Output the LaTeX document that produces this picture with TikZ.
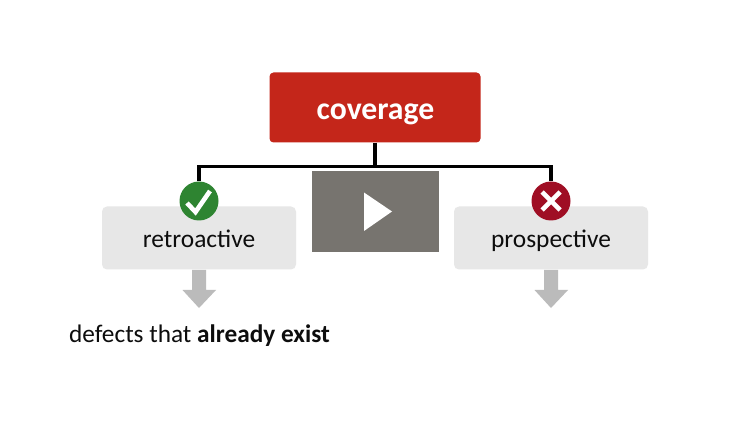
\documentclass[tikz,border=0pt]{standalone}
\usepackage{fontspec}
\setmainfont{Carlito}
\definecolor{redbox}{HTML}{C4261A}
\definecolor{greybox}{HTML}{E7E7E7}
\definecolor{arrowgrey}{HTML}{BBBBBB}
\definecolor{playgrey}{HTML}{77746F}
\definecolor{okgreen}{HTML}{2E8431}
\definecolor{nored}{HTML}{9F0E24}
\tikzset{
  topbox/.style={draw=none,fill=redbox,rounded corners=4pt,minimum width=211pt,minimum height=70pt,inner sep=0pt},
  toplabel/.style={anchor=base,inner sep=0pt,text=white,font=\fontsize{31.7}{34}\selectfont\bfseries},
  subbox/.style={draw=none,fill=greybox,rounded corners=5pt,minimum width=194pt,minimum height=63pt,inner sep=0pt},
  sublabel/.style={anchor=base,inner sep=0pt,font=\fontsize{25.4}{28}\selectfont,text=black!95},
  badge/.style={circle,minimum size=39pt,inner sep=0pt},
  conn/.style={draw=black,line width=3.2pt},
  downarrow/.style={fill=arrowgrey,draw=none},
}
\begin{document}
\begin{tikzpicture}[x=1pt,y=-1pt]
\useasboundingbox (0,0) rectangle (750,422);
\fill[white] (0,0) rectangle (750,422);
\node[topbox] (cov) at (375,107.5) {};
\node[toplabel] (covt) at (375.5,119.5) {coverage};
\node[subbox] (ret) at (199,238) {};
\node[subbox] (pro) at (551,238) {};
\node[badge,fill=okgreen] (ok) at (199,201) {};
\node[badge,fill=nored] (no) at (551,201) {};
\coordinate (hub) at (375,166.5);
\draw[conn] (cov.south) -- (hub);
\draw[conn,line join=miter] (ok.north) -- (ok.north |- hub) -- (no.north |- hub) -- (no.north);
\node[sublabel] (rett) at (199,248) {retroactive};
\node[sublabel] (prot) at (551,248) {prospective};
% check and cross
\draw[white,line width=4.6pt,line join=miter] (187,203) -- (195.5,212) -- (210,191);
\draw[white,line width=4.6pt] (542,192) -- (560,210) (560,192) -- (542,210);
% arrows
\fill[downarrow] (192,270) -- (206,270) -- (206,290) -- (216,290) -- (199,308) -- (182.5,290) -- (192,290) -- cycle;
\fill[downarrow] (544,270) -- (558,270) -- (558,290) -- (568,290) -- (551,308) -- (534.5,290) -- (544,290) -- cycle;
% play
\node[fill=playgrey,minimum width=127pt,minimum height=81pt,inner sep=0pt] (video) at (375.5,211.5) {};
\fill[white] (364,192.5) -- (392,211.5) -- (364,231) -- cycle;
\node[anchor=base west,inner sep=0pt,font=\fontsize{25.3}{28}\selectfont,text=black!95] (defects) at (69,342) {defects that \textbf{already exist}};
\end{tikzpicture}
\end{document}
